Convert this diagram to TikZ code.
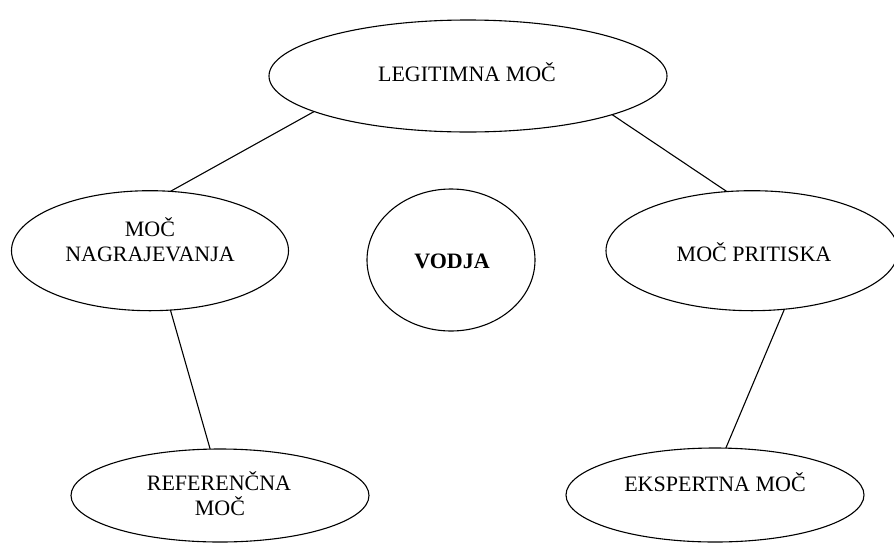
\documentclass[tikz,border=0pt]{standalone}
\usepackage{fontspec}
\setmainfont{Liberation Serif}
\usetikzlibrary{shapes.geometric}
\begin{document}
\begin{tikzpicture}[x=1pt,y=-1pt,
  oval/.style={draw=black, line width=1.1pt, ellipse, inner sep=0pt, outer sep=0pt},
  lbl/.style={anchor=base, inner sep=0pt, font=\fontsize{22}{25}\selectfont},
  link/.style={draw=black, line width=1.1pt}]
  \useasboundingbox (0,0) rectangle (894,544);

  % the six ovals
  \node[oval, minimum width=398pt, minimum height=112pt] (leg) at (468,76) {};
  \node[oval, minimum width=277pt, minimum height=120pt] (nag) at (150,250.7) {};
  \node[oval, minimum width=168pt, minimum height=142pt] (vod) at (451,260) {};
  \node[oval, minimum width=292pt, minimum height=120pt] (pri) at (752,250.7) {};
  \node[oval, minimum width=298pt, minimum height=93pt] (ref) at (220,495.5) {};
  \node[oval, minimum width=298pt, minimum height=94pt] (eks) at (715,495) {};

  % labels
  \node[lbl] (legT) at (467,81.7) {LEGITIMNA MOČ};
  \node[lbl] (nagT1) at (150,236) {MOČ};
  \node[lbl] (nagT2) at (150,261.7) {NAGRAJEVANJA};
  \node[lbl, font=\fontsize{22}{25}\selectfont\bfseries] (vodT) at (452,268) {VODJA};
  \node[lbl] (priT) at (754,261.7) {MOČ PRITISKA};
  \node[lbl] (refT1) at (219,490) {REFERENČNA};
  \node[lbl] (refT2) at (220,515) {MOČ};
  \node[lbl] (eksT) at (715,491) {EKSPERTNA MOČ};

  % connecting lines
  \draw[link] (leg.193.2) -- (nag.71.6);
  \draw[link] (leg.345.1) -- (pri.113.4);
  \draw[link] (nag.289.5) -- (ref.102);
  \draw[link] (pri.299.1) -- (eks.77.1);
\end{tikzpicture}
\end{document}
